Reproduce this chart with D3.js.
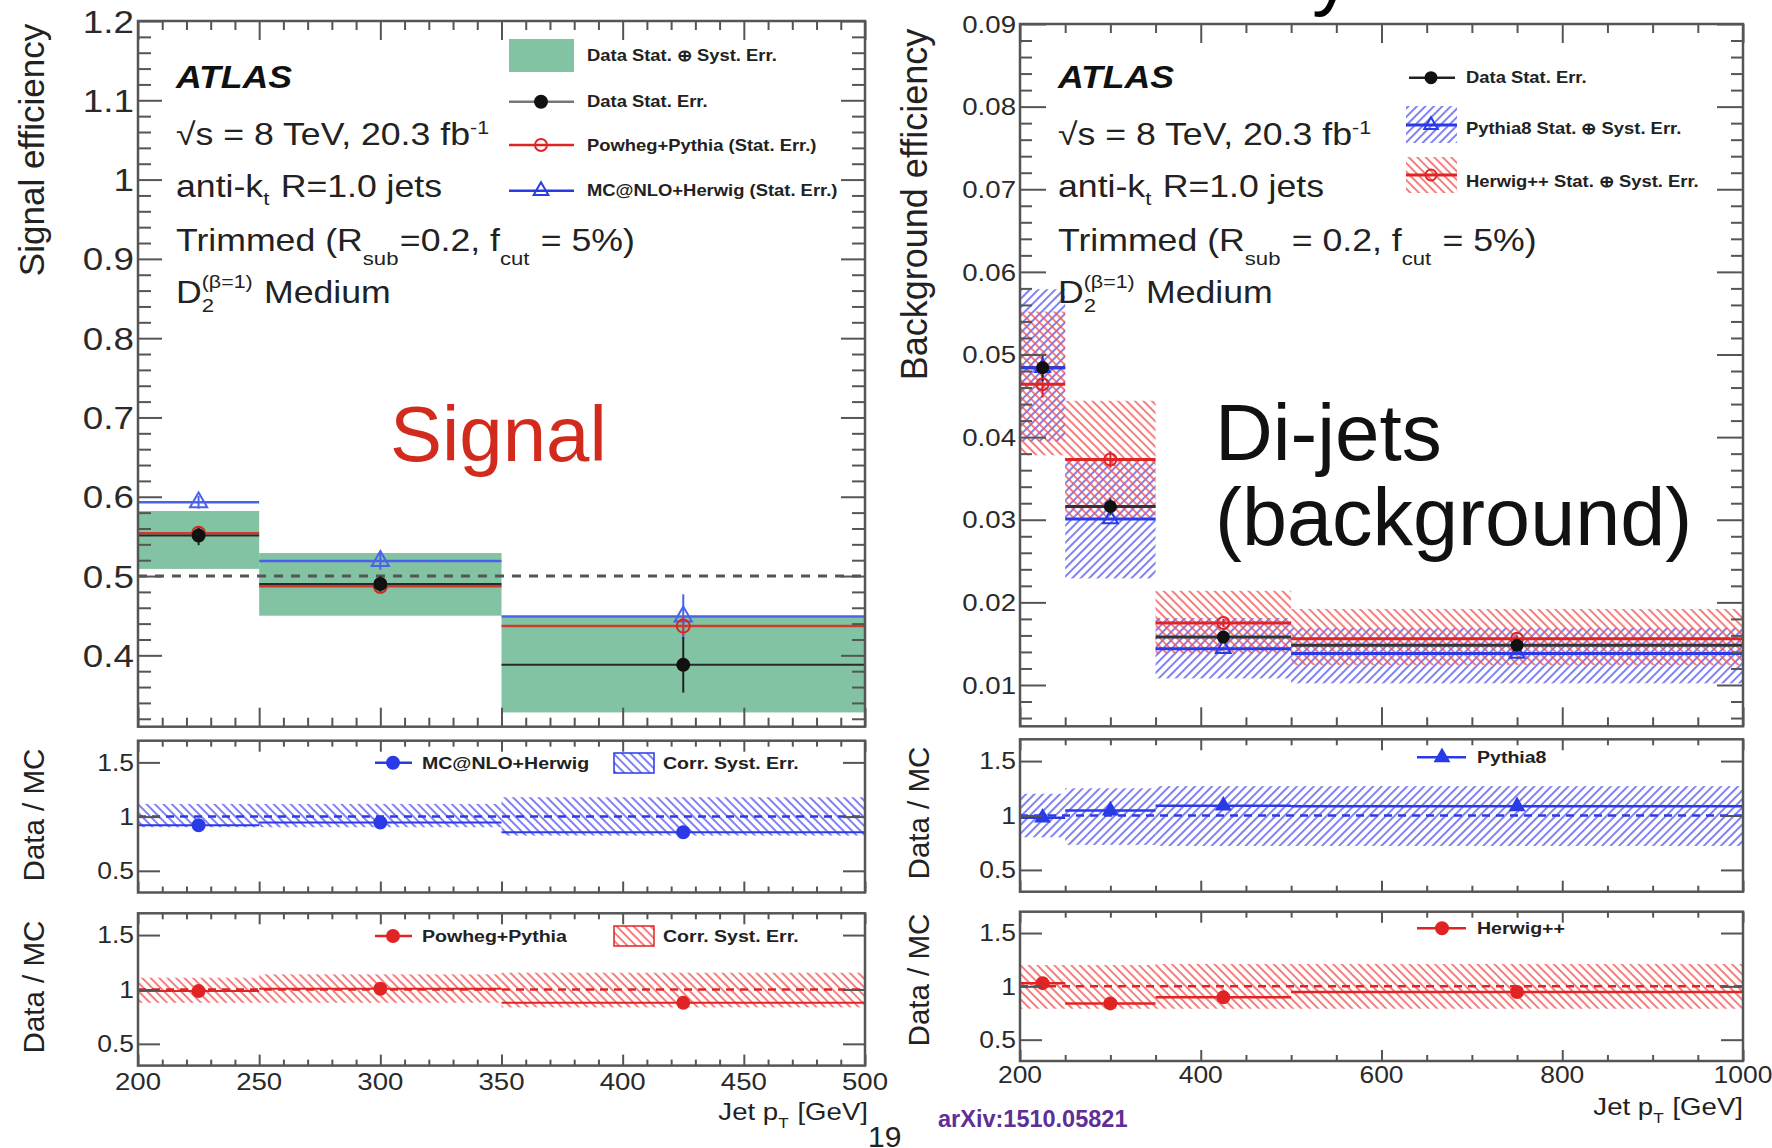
<!DOCTYPE html>
<html>
<head>
<meta charset="utf-8">
<script src="https://cdn.jsdelivr.net/npm/d3@7"></script>
<style>
  body { margin: 0; background: #fff; }
  svg { display: block; }
  text { white-space: pre; }
</style>
</head>
<body>
<div id="chart"></div>
<script>
// ---- signal efficiency (left) ----
const sigBins = [200, 250, 350, 500];
const sigPt = [225, 300, 425];
const sigData = [0.551, 0.490, 0.388];
const sigDataErr = [0.012, 0.010, 0.035];
const sigTotLo = [0.509, 0.450, 0.328];
const sigTotHi = [0.582, 0.529, 0.448];
const sigPowheg = [0.554, 0.487, 0.437];
const sigPowhegErr = [0.007, 0.006, 0.012];
const sigMcnlo = [0.593, 0.519, 0.449];
const sigMcnloErr = [0.008, 0.011, 0.028];
const sigRatMcnlo = [0.92, 0.945, 0.856];
const sigRatMcnloLo = [0.902, 0.902, 0.825];
const sigRatMcnloHi = [1.117, 1.117, 1.179];
const sigRatPowheg = [0.985, 1.006, 0.877];
const sigRatPowhegLo = [0.877, 0.877, 0.835];
const sigRatPowhegHi = [1.108, 1.139, 1.154];
const sigYTicks = [0.4, 0.5, 0.6, 0.7, 0.8, 0.9, 1, 1.1, 1.2];
const sigXTicks = [200, 250, 300, 350, 400, 450, 500];
const sigRef = 0.5;

// ---- background efficiency (right) ----
const bkgBins = [200, 250, 350, 500, 1000];
const bkgPt = [225, 300, 425, 750];
const bkgData = [0.0484, 0.0316, 0.0158, 0.0148];
const bkgDataErr = [0.0016, 0.0010, 0.0005, 0.0004];
const bkgPythia = [0.0484, 0.0301, 0.0144, 0.0138];
const bkgPythiaLo = [0.0395, 0.0229, 0.0108, 0.0102];
const bkgPythiaHi = [0.0579, 0.0372, 0.0181, 0.0169];
const bkgHerwig = [0.0464, 0.0373, 0.0175, 0.0156];
const bkgHerwigErr = [0.0016, 0.0010, 0.0005, 0.0004];
const bkgHerwigLo = [0.0378, 0.0302, 0.0138, 0.0124];
const bkgHerwigHi = [0.0552, 0.0444, 0.0214, 0.0192];
const bkgRatPythia = [0.98, 1.045, 1.09, 1.085];
const bkgRatPythiaLo = [0.80, 0.73, 0.72, 0.72];
const bkgRatPythiaHi = [1.20, 1.25, 1.27, 1.27];
const bkgRatHerwig = [1.03, 0.84, 0.897, 0.947];
const bkgRatHerwigLo = [0.79, 0.79, 0.79, 0.79];
const bkgRatHerwigHi = [1.20, 1.20, 1.21, 1.21];
const bkgYTicks = [0.01, 0.02, 0.03, 0.04, 0.05, 0.06, 0.07, 0.08, 0.09];
const bkgXTicks = [200, 400, 600, 800, 1000];

const ratioTicks = [0.5, 1, 1.5];

const SX = 1.15;  // the plots in the slide are stretched horizontally
const FONT = "'Liberation Sans', Arial, Helvetica, sans-serif";
const RED = "#e02424", BLUE = "#2a3ae6", GREEN = "#82c3a3", INK = "#222";
const fmt = d3.format("~g");

const svg = d3.select("#chart").append("svg")
    .attr("width", 1772).attr("height", 1148)
    .style("font-family", FONT);

const defs = svg.append("defs");
function hatch(id, color, angle) {
    defs.append("pattern").attr("id", id)
        .attr("patternUnits", "userSpaceOnUse")
        .attr("width", 6).attr("height", 6)
        .attr("patternTransform", `rotate(${angle})`)
        .append("line")
        .attr("x1", 3).attr("y1", 0).attr("x2", 3).attr("y2", 6)
        .attr("stroke", color).attr("stroke-width", 1.5);
}
hatch("blueF", "#5656f2", 45);
hatch("blueB", "#5656f2", -45);
hatch("redB", "#f25454", -45);

function txt(g, x, y, s, size, anchor, o = {}) {
    return g.append("text")
        .attr("transform", `translate(${x},${y}) scale(${o.sx || SX},1)`)
        .attr("text-anchor", anchor || "start")
        .attr("font-size", size)
        .attr("font-weight", o.weight || null)
        .attr("font-style", o.style || null)
        .attr("fill", o.fill || INK)
        .text(s);
}

// text with sub/superscripts, laid out piece by piece
function rich(g, x, y, parts, size, o = {}) {
    const sx = o.sx || SX;
    const grp = g.append("g").attr("font-size", size).attr("fill", o.fill || INK)
        .attr("font-weight", o.weight || null);
    let cx = 0;
    parts.forEach(p => {
        if (typeof p === "string") {
            const t = grp.append("text").attr("x", cx).attr("y", 0).text(p);
            cx += t.node().getComputedTextLength();
        } else {
            let w = 0;
            if (p.sub) {
                const t = grp.append("text").attr("x", cx).attr("y", size * (p.subDy || 0.32))
                    .attr("font-size", size * 0.62).text(p.sub);
                w = Math.max(w, t.node().getComputedTextLength());
            }
            if (p.sup) {
                const t = grp.append("text").attr("x", cx).attr("y", -size * (p.supDy || 0.4))
                    .attr("font-size", size * 0.6).text(p.sup);
                w = Math.max(w, t.node().getComputedTextLength());
            }
            cx += w + size * 0.04;
        }
    });
    const x0 = o.anchor === "end" ? x - cx * sx : x;
    grp.attr("transform", `translate(${x0},${y}) scale(${sx},1)`);
    return grp;
}

function vtitle(g, x, y, s, size) {
    g.append("text")
        .attr("transform", `translate(${x},${y}) rotate(-90)`)
        .attr("text-anchor", "middle").attr("font-size", size).attr("fill", INK)
        .text(s);
}

function bands(g, x, y, bins, lo, hi, fill) {
    g.append("g").selectAll("rect").data(lo).join("rect")
        .attr("x", (d, i) => x(bins[i]))
        .attr("width", (d, i) => x(bins[i + 1]) - x(bins[i]))
        .attr("y", (d, i) => y(hi[i]))
        .attr("height", (d, i) => y(lo[i]) - y(hi[i]))
        .attr("fill", fill);
}

function hLines(g, x, y, bins, vals, color, w) {
    g.append("g").selectAll("line").data(vals).join("line")
        .attr("x1", (d, i) => x(bins[i])).attr("x2", (d, i) => x(bins[i + 1]))
        .attr("y1", d => y(d)).attr("y2", d => y(d))
        .attr("stroke", color).attr("stroke-width", w);
}

function vErr(g, x, y, pts, vals, errs, color, w) {
    g.append("g").selectAll("line").data(vals).join("line")
        .attr("x1", (d, i) => x(pts[i])).attr("x2", (d, i) => x(pts[i]))
        .attr("y1", (d, i) => y(d - errs[i])).attr("y2", (d, i) => y(d + errs[i]))
        .attr("stroke", color).attr("stroke-width", w);
}

function marker(g, cx, cy, kind, color, filled, r) {
    if (kind === "circle") {
        g.append("circle").attr("cx", cx).attr("cy", cy).attr("r", r)
            .attr("fill", filled ? color : "none")
            .attr("stroke", color).attr("stroke-width", 2);
    } else {
        g.append("path")
            .attr("d", d3.symbol(d3.symbolTriangle, r * r * 2.6)())
            .attr("transform", `translate(${cx},${cy})`)
            .attr("fill", filled ? color : "none")
            .attr("stroke", color).attr("stroke-width", 2);
    }
}

function markers(g, x, y, pts, vals, kind, color, filled, r) {
    vals.forEach((v, i) => marker(g, x(pts[i]), y(v), kind, color, filled, r));
}

function frame(g, x, y, o) {
    const [x0, x1] = x.range(), [yb, yt] = y.range();
    const tick = (axis, tr, vals, len) => {
        const a = g.append("g").attr("transform", tr)
            .call(axis.tickValues(vals).tickSize(-len).tickFormat(() => ""));
        a.select(".domain").remove();
        a.selectAll("line").attr("stroke", "#555").attr("stroke-width", 2);
    };
    [[o.yMajor, o.yMajLen], [o.yMinor, o.yMinLen]].forEach(([v, l]) => {
        if (!v) return;
        tick(d3.axisLeft(y), `translate(${x0},0)`, v, l);
        tick(d3.axisRight(y), `translate(${x1},0)`, v, l);
    });
    [[o.xMajor, o.xMajLen], [o.xMinor, o.xMinLen]].forEach(([v, l]) => {
        tick(d3.axisBottom(x), `translate(0,${yb})`, v, l);
        tick(d3.axisTop(x), `translate(0,${yt})`, v, l);
    });
    g.append("rect").attr("x", x0).attr("y", yt)
        .attr("width", x1 - x0).attr("height", yb - yt)
        .attr("fill", "none").attr("stroke", "#555").attr("stroke-width", 2.5);
    o.yMajor.forEach(v => txt(g, x0 - 4, y(v) + o.ySize * 0.36, fmt(v), o.ySize, "end", { fill: "#2a2a2a" }));
    if (o.xLabelY) o.xMajor.forEach(v => txt(g, x(v), o.xLabelY, fmt(v), o.xSize, "middle", { fill: "#2a2a2a" }));
}

function notMajor(step) {
    return d => Math.abs(d / step - Math.round(d / step)) > 1e-6;
}

function infoText(g, x, rSub) {
    txt(g, x, 88, "ATLAS", 31, "start", { weight: "bold", style: "italic", fill: "#111" });
    rich(g, x, 145, ["√s = 8 TeV, 20.3 fb", { sup: "-1", supDy: 0.36 }], 31);
    rich(g, x, 197, ["anti-k", { sub: "t", subDy: 0.25 }, " R=1.0 jets"], 31);
    rich(g, x, 251, ["Trimmed (R", { sub: "sub", subDy: 0.45 }, rSub, { sub: "cut", subDy: 0.45 }, " = 5%)"], 31);
    rich(g, x, 303, ["D", { sub: "2", subDy: 0.3, sup: "(β=1)", supDy: 0.5 }, " Medium"], 31);
}

// ================= LEFT: signal =================
const L = svg.append("g");
const xs = d3.scaleLinear().domain([200, 500]).range([138, 865]);
const ys = d3.scaleLinear().domain([0.31, 1.2]).range([726.7, 21]);
const yr1 = d3.scaleLinear().domain([0.3, 1.7]).range([892.5, 740.7]);
const yr2 = d3.scaleLinear().domain([0.3, 1.7]).range([1065.6, 913.3]);

bands(L, xs, ys, sigBins, sigTotLo, sigTotHi, GREEN);
L.append("line").attr("x1", xs(200)).attr("x2", xs(500))
    .attr("y1", ys(sigRef)).attr("y2", ys(sigRef))
    .attr("stroke", "#555").attr("stroke-width", 3).attr("stroke-dasharray", "9,8");
hLines(L, xs, ys, sigBins, sigMcnlo, "#4a62ea", 2.5);
hLines(L, xs, ys, sigBins, sigPowheg, "#cf3b2a", 2.5);
hLines(L, xs, ys, sigBins, sigData, "#2a2a2a", 2);
vErr(L, xs, ys, sigPt, sigMcnlo, sigMcnloErr, "#4a62ea", 2);
vErr(L, xs, ys, sigPt, sigPowheg, sigPowhegErr, "#cf3b2a", 2);
vErr(L, xs, ys, sigPt, sigData, sigDataErr, "#222", 2);
markers(L, xs, ys, sigPt, sigMcnlo, "tri", "#4a62ea", false, 7);
markers(L, xs, ys, sigPt, sigPowheg, "circle", "#d02a20", false, 6.5);
markers(L, xs, ys, sigPt, sigData, "circle", "#111", true, 6);

frame(L, xs, ys, {
    yMajor: sigYTicks, yMajLen: 24,
    yMinor: d3.range(16, 61).map(d => d / 50).filter(d => d >= 0.31 && d <= 1.2).filter(notMajor(0.1)), yMinLen: 13,
    xMajor: sigXTicks, xMajLen: 19,
    xMinor: d3.range(200, 501, 10).filter(notMajor(50)), xMinLen: 9,
    ySize: 32
});

// ratio panels
[[yr1, sigRatMcnlo, sigRatMcnloLo, sigRatMcnloHi, "url(#blueB)", BLUE],
 [yr2, sigRatPowheg, sigRatPowhegLo, sigRatPowhegHi, "url(#redB)", RED]].forEach(([yr, v, lo, hi, fill, col], k) => {
    bands(L, xs, yr, sigBins, lo, hi, fill);
    L.append("line").attr("x1", xs(200)).attr("x2", xs(500))
        .attr("y1", yr(1)).attr("y2", yr(1))
        .attr("stroke", col).attr("stroke-width", 2.5).attr("stroke-dasharray", "8,6");
    hLines(L, xs, yr, sigBins, v, col, 2);
    markers(L, xs, yr, sigPt, v, "circle", col, true, 6);
    frame(L, xs, yr, {
        yMajor: ratioTicks, yMajLen: 22,
        xMajor: sigXTicks, xMajLen: 11,
        xMinor: d3.range(200, 501, 10).filter(notMajor(50)), xMinLen: 6,
        ySize: 23,
        xLabelY: k === 1 ? 1090 : null, xSize: 24
    });
});

// left legend
L.append("rect").attr("x", 509).attr("y", 39).attr("width", 65).attr("height", 33).attr("fill", GREEN);
[[101.7, "#777", "circle", "#111", true], [145, RED, "circle", RED, false], [190.7, BLUE, "tri", BLUE, false]]
    .forEach(([yy, lc, kind, mc, filled]) => {
        L.append("line").attr("x1", 509).attr("x2", 574).attr("y1", yy).attr("y2", yy)
            .attr("stroke", lc).attr("stroke-width", 2.5);
        marker(L, 541, yy, kind, mc, filled, 6);
    });
const legL = ["Data Stat. ⊕ Syst. Err.", "Data Stat. Err.", "Powheg+Pythia (Stat. Err.)", "MC@NLO+Herwig (Stat. Err.)"];
[55, 101.7, 145, 190.7].forEach((yy, i) => txt(L, 587, yy + 5.6, legL[i], 16, "start", { weight: "bold" }));

// ratio legends
L.append("line").attr("x1", 375).attr("x2", 412).attr("y1", 762.7).attr("y2", 762.7).attr("stroke", BLUE).attr("stroke-width", 2.5);
marker(L, 393, 762.7, "circle", BLUE, true, 6);
txt(L, 422, 768.7, "MC@NLO+Herwig", 17, "start", { weight: "bold" });
L.append("rect").attr("x", 614).attr("y", 753).attr("width", 40).attr("height", 20)
    .attr("fill", "url(#blueB)").attr("stroke", BLUE).attr("stroke-width", 1.5);
txt(L, 663, 768.7, "Corr. Syst. Err.", 17, "start", { weight: "bold" });
L.append("line").attr("x1", 375).attr("x2", 412).attr("y1", 936).attr("y2", 936).attr("stroke", RED).attr("stroke-width", 2.5);
marker(L, 393, 936, "circle", RED, true, 6);
txt(L, 422, 942, "Powheg+Pythia", 17, "start", { weight: "bold" });
L.append("rect").attr("x", 614).attr("y", 926).attr("width", 40).attr("height", 20)
    .attr("fill", "url(#redB)").attr("stroke", RED).attr("stroke-width", 1.5);
txt(L, 663, 942, "Corr. Syst. Err.", 17, "start", { weight: "bold" });

infoText(L, 176, "=0.2, f");
txt(L, 390, 461, "Signal", 78, "start", { sx: 1, fill: "#d22b1d" });

vtitle(L, 44, 150, "Signal efficiency", 35);
vtitle(L, 44, 815, "Data / MC", 29.5);
vtitle(L, 44, 987, "Data / MC", 29.5);
rich(L, 868, 1120, ["Jet p", { sub: "T", subDy: 0.35 }, " [GeV]"], 24, { anchor: "end" });

// ================= RIGHT: background =================
const R = svg.append("g");
const xb = d3.scaleLinear().domain([200, 1000]).range([1020, 1743]);
const yb = d3.scaleLinear().domain([0.005, 0.09]).range([726.3, 24]);
const ybr1 = d3.scaleLinear().domain([0.3, 1.7]).range([891.7, 739.3]);
const ybr2 = d3.scaleLinear().domain([0.3, 1.7]).range([1061, 911.7]);

bands(R, xb, yb, bkgBins, bkgPythiaLo, bkgPythiaHi, "url(#blueF)");
bands(R, xb, yb, bkgBins, bkgHerwigLo, bkgHerwigHi, "url(#redB)");
hLines(R, xb, yb, bkgBins, bkgHerwig, RED, 3);
hLines(R, xb, yb, bkgBins, bkgData, "#333", 3);
hLines(R, xb, yb, bkgBins, bkgPythia, BLUE, 3);
vErr(R, xb, yb, bkgPt, bkgHerwig, bkgHerwigErr, RED, 2);
vErr(R, xb, yb, bkgPt, bkgData, bkgDataErr, "#222", 2);
markers(R, xb, yb, bkgPt, bkgPythia, "tri", BLUE, false, 6);
markers(R, xb, yb, bkgPt, bkgHerwig, "circle", RED, false, 6);
markers(R, xb, yb, bkgPt, bkgData, "circle", "#111", true, 5.5);

frame(R, xb, yb, {
    yMajor: bkgYTicks, yMajLen: 26,
    yMinor: d3.range(3, 46).map(d => d / 500).filter(notMajor(0.01)), yMinLen: 12,
    xMajor: bkgXTicks, xMajLen: 19,
    xMinor: d3.range(200, 1001, 50).filter(notMajor(200)), xMinLen: 9,
    ySize: 24
});

[[ybr1, bkgRatPythia, bkgRatPythiaLo, bkgRatPythiaHi, "url(#blueF)", BLUE, "tri"],
 [ybr2, bkgRatHerwig, bkgRatHerwigLo, bkgRatHerwigHi, "url(#redB)", RED, "circle"]].forEach(([yr, v, lo, hi, fill, col, kind], k) => {
    bands(R, xb, yr, bkgBins, lo, hi, fill);
    R.append("line").attr("x1", xb(200)).attr("x2", xb(1000))
        .attr("y1", yr(1)).attr("y2", yr(1))
        .attr("stroke", col).attr("stroke-width", 2.5).attr("stroke-dasharray", "8,6");
    hLines(R, xb, yr, bkgBins, v, col, 2.5);
    markers(R, xb, yr, bkgPt, v, kind, col, true, kind === "tri" ? 5.5 : 6);
    frame(R, xb, yr, {
        yMajor: ratioTicks, yMajLen: 22,
        xMajor: bkgXTicks, xMajLen: 11,
        xMinor: d3.range(200, 1001, 50).filter(notMajor(200)), xMinLen: 6,
        ySize: 23,
        xLabelY: k === 1 ? 1083 : null, xSize: 23
    });
});

// right legend
R.append("line").attr("x1", 1409).attr("x2", 1455).attr("y1", 77.7).attr("y2", 77.7).attr("stroke", "#222").attr("stroke-width", 2.5);
marker(R, 1431, 77.7, "circle", "#111", true, 5.5);
R.append("rect").attr("x", 1406).attr("y", 106).attr("width", 51).attr("height", 37).attr("fill", "url(#blueF)");
R.append("line").attr("x1", 1406).attr("x2", 1457).attr("y1", 125).attr("y2", 125).attr("stroke", BLUE).attr("stroke-width", 3);
marker(R, 1431, 125, "tri", BLUE, false, 5.5);
R.append("rect").attr("x", 1406).attr("y", 157).attr("width", 51).attr("height", 36).attr("fill", "url(#redB)");
R.append("line").attr("x1", 1406).attr("x2", 1457).attr("y1", 175).attr("y2", 175).attr("stroke", RED).attr("stroke-width", 3);
marker(R, 1431, 175, "circle", RED, false, 5.5);
const legR = ["Data Stat. Err.", "Pythia8 Stat. ⊕ Syst. Err.", "Herwig++ Stat. ⊕ Syst. Err."];
[77.7, 128.3, 181.7].forEach((yy, i) => txt(R, 1466, yy + 5.6, legR[i], 16, "start", { weight: "bold" }));

R.append("line").attr("x1", 1417).attr("x2", 1466).attr("y1", 757.3).attr("y2", 757.3).attr("stroke", BLUE).attr("stroke-width", 2.5);
marker(R, 1442, 757.3, "tri", BLUE, true, 5.5);
txt(R, 1477, 763.3, "Pythia8", 17, "start", { weight: "bold" });
R.append("line").attr("x1", 1417).attr("x2", 1466).attr("y1", 928.3).attr("y2", 928.3).attr("stroke", RED).attr("stroke-width", 2.5);
marker(R, 1442, 928.3, "circle", RED, true, 6);
txt(R, 1477, 934.3, "Herwig++", 17, "start", { weight: "bold" });

infoText(R, 1058, " = 0.2, f");
txt(R, 1215, 460, "Di-jets", 80, "start", { sx: 1, fill: "#111" });
txt(R, 1215, 545, "(background)", 81, "start", { sx: 1, fill: "#111" });

vtitle(R, 927, 204.5, "Background efficiency", 36);
vtitle(R, 929, 813, "Data / MC", 29.5);
vtitle(R, 929, 980, "Data / MC", 29.5);
rich(R, 1743, 1115, ["Jet p", { sub: "T", subDy: 0.35 }, " [GeV]"], 24, { anchor: "end" });

// slide leftovers: clipped title letter, page number, reference
txt(svg, 1312, 0, "y", 80, "start", { sx: 1, fill: "#000" });
txt(svg, 868, 1147, "19", 30, "start", { sx: 1, fill: "#222" });
txt(svg, 938, 1127, "arXiv:1510.05821", 23.5, "start", { sx: 1, weight: "bold", fill: "#5e2f96" });
</script>
</body>
</html>
